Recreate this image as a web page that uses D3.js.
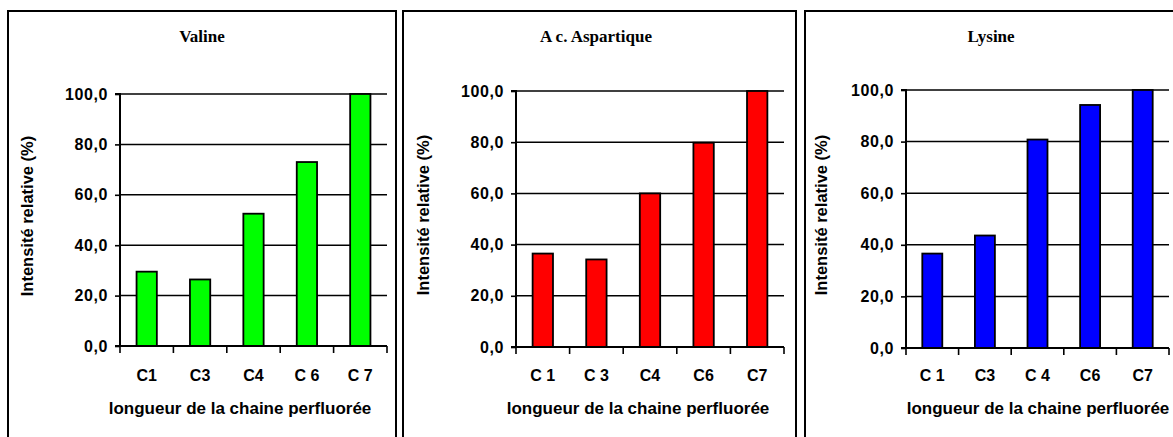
<!DOCTYPE html>
<html>
<head>
<meta charset="utf-8">
<script src="https://cdn.jsdelivr.net/npm/d3@7"></script>
<style>
  html, body { margin: 0; padding: 0; background: #fff; }
  svg { display: block; }
</style>
</head>
<body>
<svg id="chart" width="1173" height="437"></svg>
<script>
// Chain lengths of the perfluorinated acid
const categories = ["C1", "C3", "C4", "C6", "C7"];
const categoryLabelsValine = ["C1", "C3", "C4", "C 6", "C 7"];
const categoryLabelsAspartique = ["C 1", "C 3", "C4", "C6", "C7"];
const categoryLabelsLysine = ["C 1", "C3", "C 4", "C6", "C7"];

// Relative intensity (%) per amino acid
const valine = [29.5, 26.4, 52.5, 73.0, 100.0];
const acideAspartique = [36.5, 34.2, 60.0, 79.8, 100.0];
const lysine = [36.6, 43.6, 80.8, 94.2, 100.0];

// Y axis ticks
const yTicks = [0, 20, 40, 60, 80, 100];
const yTickLabels = ["0,0", "20,0", "40,0", "60,0", "80,0", "100,0"];

const titles = ["Valine", "A c. Aspartique", "Lysine"];
const colors = ["#00ff00", "#ff0000", "#0000ff"];
const yTitle = "Intensité relative (%)";
const xTitle = "longueur de la chaine perfluorée";

const seriesList = [valine, acideAspartique, lysine];
const labelList = [categoryLabelsValine, categoryLabelsAspartique, categoryLabelsLysine];

// Panel geometry
const panels = [
  { frameX0: 8,   frameX1: 396,  left: 120, right: 387,  y0: 346, y100: 94, titleX: 202, yLabelX: 27,  xTitleX: 240 },
  { frameX0: 403, frameX1: 796,  left: 516, right: 784,  y0: 347, y100: 91, titleX: 596, yLabelX: 423, xTitleX: 638 },
  { frameX0: 805, frameX1: 1200, left: 906, right: 1169, y0: 348, y100: 90, titleX: 991, yLabelX: 821, xTitleX: 1038 }
];

const svg = d3.select("#chart");
const sans = "'Liberation Sans', Arial, sans-serif";
const serif = "'Liberation Serif', 'Times New Roman', serif";

panels.forEach((p, i) => {
  const values = seriesList[i];
  const g = svg.append("g");

  // Frame around the panel
  g.append("rect")
    .attr("x", p.frameX0).attr("y", 11)
    .attr("width", p.frameX1 - p.frameX0).attr("height", 460)
    .attr("fill", "none").attr("stroke", "#000").attr("stroke-width", 2);

  const x = d3.scaleBand().domain(categories).range([p.left, p.right])
    .paddingInner(0.62).paddingOuter(0.31);
  const xEdges = d3.scaleBand().domain(categories).range([p.left, p.right]).padding(0);
  const y = d3.scaleLinear().domain([0, 100]).range([p.y0, p.y100]);

  // Horizontal gridlines
  g.append("g").selectAll("line")
    .data(yTicks.filter(t => t > 0))
    .join("line")
    .attr("x1", p.left).attr("x2", p.right)
    .attr("y1", d => y(d)).attr("y2", d => y(d))
    .attr("stroke", "#000").attr("stroke-width", 1.5);

  // Bars
  g.append("g").selectAll("rect")
    .data(values)
    .join("rect")
    .attr("x", (d, j) => x(categories[j]))
    .attr("y", d => y(d))
    .attr("width", x.bandwidth())
    .attr("height", d => y(0) - y(d))
    .attr("fill", colors[i])
    .attr("stroke", "#000").attr("stroke-width", 1.8);

  // Y axis
  const yAxis = d3.axisLeft(y).tickValues(yTicks)
    .tickFormat((d, k) => yTickLabels[k])
    .tickSize(5).tickPadding(7);
  const ya = g.append("g").attr("transform", `translate(${p.left},0)`).call(yAxis);
  ya.select(".domain").attr("stroke-width", 2).attr("d", `M-5,${p.y100}H0V${p.y0}H-5`);
  ya.selectAll(".tick line").attr("stroke-width", 1.6);
  ya.selectAll(".tick text").attr("font-size", 16).attr("fill", "#000")
    .attr("font-family", sans).attr("font-weight", "bold").style("letter-spacing", "0.6px");

  // X axis: ticks at the category boundaries
  const xa = g.append("g").attr("transform", `translate(0,${p.y0})`);
  xa.append("line").attr("x1", p.left).attr("x2", p.right)
    .attr("y1", 0).attr("y2", 0).attr("stroke", "#000").attr("stroke-width", 2);
  const edges = categories.map(c => xEdges(c)).concat([p.right]);
  xa.selectAll("line.edge").data(edges).join("line").attr("class", "edge")
    .attr("x1", d => d).attr("x2", d => d).attr("y1", 0).attr("y2", 7)
    .attr("stroke", "#000").attr("stroke-width", 1.6);
  xa.selectAll("text").data(categories).join("text")
    .attr("x", d => xEdges(d) + xEdges.bandwidth() / 2)
    .attr("y", 380 - p.y0 + 1)
    .attr("text-anchor", "middle")
    .attr("font-family", sans).attr("font-weight", "bold").attr("font-size", 16)
    .text((d, k) => labelList[i][k]);

  // Titles
  g.append("text").attr("x", p.titleX).attr("y", 42)
    .attr("text-anchor", "middle").attr("font-family", serif)
    .attr("font-weight", "bold").attr("font-size", 17).text(titles[i]);

  g.append("text").attr("x", p.xTitleX).attr("y", 414)
    .attr("text-anchor", "middle").attr("font-family", sans)
    .attr("font-weight", "bold").attr("font-size", 17).text(xTitle);

  g.append("text")
    .attr("transform", `translate(${p.yLabelX + 6},${(p.y0 + p.y100) / 2 - 4}) rotate(-90)`)
    .attr("text-anchor", "middle").attr("font-family", sans)
    .attr("font-weight", "bold").attr("font-size", 16.5).text(yTitle);
});
</script>
</body>
</html>
